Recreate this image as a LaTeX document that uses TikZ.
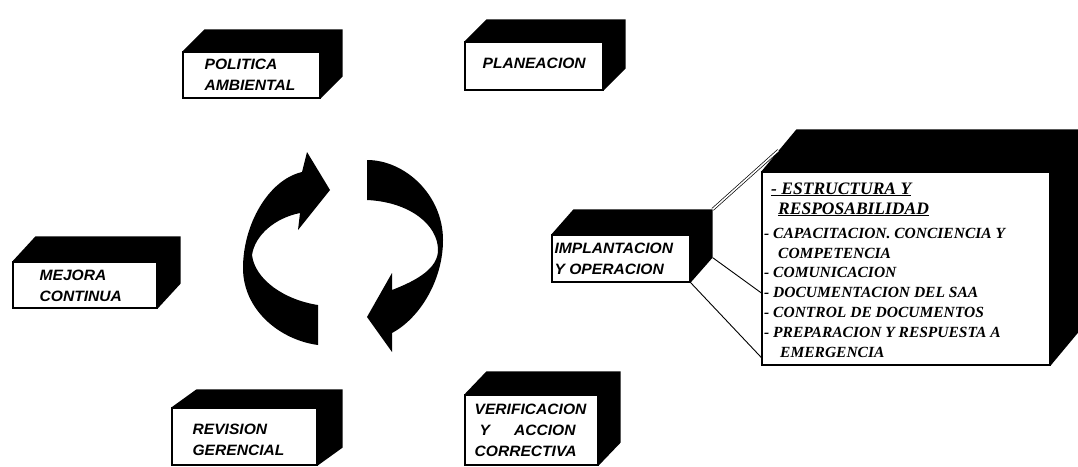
\documentclass[tikz,border=0pt]{standalone}
\usepackage{fontspec}
\setmainfont{Liberation Serif}
\newfontfamily\labfont[FakeStretch=1.04]{Liberation Sans}
\usetikzlibrary{calc}
\newcommand\cubeback[3]{\fill[black] (#1.north west) -- ++(#2,#3) -- ($(#1.north east)+(#2,#3)$) -- ($(#1.south east)+(#2,#3)$) -- (#1.south east) -- (#1.north east) -- cycle;}
\tikzset{
  face/.style={draw=black, fill=white, line width=1.2pt, inner sep=0pt},
  lab/.style={font=\labfont\bfseries\itshape\fontsize{15}{21}\selectfont, align=left, inner sep=0pt, anchor=west},
  detline/.style={font=\bfseries\itshape\fontsize{15.5}{18}\selectfont, inner sep=0pt, anchor=base west},
  dethead/.style={detline, font=\bfseries\itshape\fontsize{17.5}{20}\selectfont},
  conn/.style={line width=0.9pt},
  dbl/.style={double, double distance=1.6pt, line width=0.7pt},
  cyc/.style={fill=black}
}
\begin{document}
\begin{tikzpicture}[x=1pt,y=-1pt]
\fill[white] (0,0) rectangle (1078,466);
\useasboundingbox (0,0) rectangle (1078,466);

% front faces
\node[face, minimum width=137pt, minimum height=46pt] (pol) at (251.5,75) {};
\node[face, minimum width=138pt, minimum height=48pt] (pla) at (534,66) {};
\node[face, minimum width=144pt, minimum height=46pt] (mej) at (85,285) {};
\node[face, minimum width=138pt, minimum height=47pt] (imp) at (621,258.5) {};
\node[face, minimum width=145pt, minimum height=57pt] (rev) at (244.5,436.5) {};
\node[face, minimum width=133pt, minimum height=70pt] (ver) at (531.5,430) {};
\node[face, minimum width=288pt, minimum height=193pt] (det) at (906,268.5) {};

% dark top and side faces
\cubeback{pol}{22}{-22}
\cubeback{pla}{22}{-22}
\cubeback{mej}{23}{-25}
\cubeback{imp}{22}{-25}
\cubeback{rev}{25}{-18}
\cubeback{ver}{22}{-23}
\cubeback{det}{35}{-42}

% labels
\node[lab] (polt) at ($(pol.west)+(22,0)$) {POLITICA\\AMBIENTAL};
\node[lab] (plat) at ($(pla.west)+(18,-3)$) {PLANEACION};
\node[lab] (mejt) at ($(mej.west)+(27,1)$) {MEJORA\\CONTINUA};
\node[lab] (impt) at ($(imp.west)+(3,0)$) {IMPLANTACION\\Y OPERACION};
\node[lab] (revt) at ($(rev.west)+(21,3)$) {REVISION\\GERENCIAL};
\node[lab] (vert) at ($(ver.west)+(10,0)$) {VERIFICACION\\\hspace*{5pt}Y\hspace{24pt}ACCION\\CORRECTIVA};

% detail text
\node[dethead] (d1) at (771,194) {\underline{- ESTRUCTURA Y}};
\node[dethead] (d2) at (778,214) {\underline{RESPOSABILIDAD}};
\node[detline] (d3) at (764,238) {- CAPACITACION. CONCIENCIA Y};
\node[detline] (d4) at (778,258) {COMPETENCIA};
\node[detline] (d5) at (764,277) {- COMUNICACION};
\node[detline] (d6) at (764,297) {- DOCUMENTACION DEL SAA};
\node[detline] (d7) at (764,317) {- CONTROL DE DOCUMENTOS};
\node[detline] (d8) at (764,337) {- PREPARACION Y RESPUESTA A};
\node[detline] (d9) at (780,357) {EMERGENCIA};

% connectors from IMPLANTACION to detail box
\coordinate (impback) at ($(imp.north east)+(22,-25)$);
\coordinate (impbackb) at ($(imp.south east)+(22,-25)$);
\coordinate (detslant) at ($(det.north west)+(17,-21)$);
\coordinate (detmid) at ($(det.west)+(0,24.5)$);
\coordinate (detlow) at ($(det.south west)+(0,-8)$);
\draw[dbl] (impback) -- (detslant);
\draw[conn] (impbackb) -- (detmid);
\draw[conn] (imp.south east) -- (detlow);

% cycle arrows
\fill[cyc] (318,345) -- (318,305)
  .. controls (285,300) and (255,280) .. (252,255)
  .. controls (255,235) and (275,218) .. (300,213)
  -- (298,230) -- (330,190) -- (307,152) -- (302,172)
  .. controls (268,180) and (243,225) .. (243,268)
  .. controls (243,310) and (280,340) .. (318,345) -- cycle;
\fill[cyc] (367,160)
  .. controls (405,160) and (443,195) .. (443,240)
  .. controls (443,280) and (420,318) .. (392,333)
  -- (392,352) -- (367,317) -- (392,273) -- (392,290)
  .. controls (418,280) and (438,268) .. (438,250)
  .. controls (438,225) and (410,202) .. (367,200) -- cycle;
\end{tikzpicture}
\end{document}
